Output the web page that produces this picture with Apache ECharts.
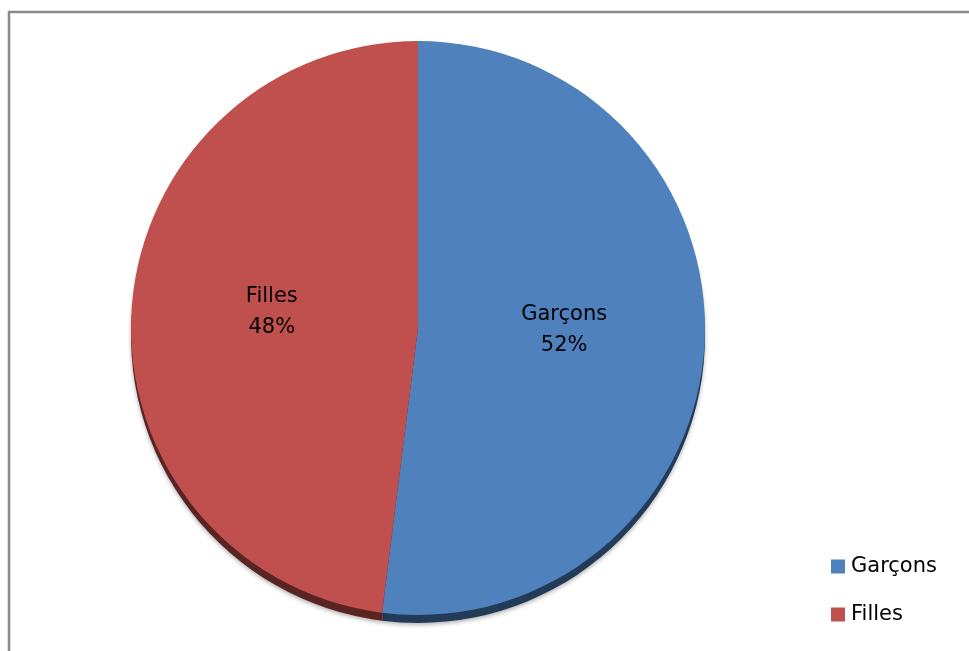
<!DOCTYPE html>
<html><head><meta charset="utf-8">
<script src="https://cdn.jsdelivr.net/npm/echarts@6/dist/echarts.min.js"></script>
<style>html,body{margin:0;padding:0;background:#fff}#c{width:969px;height:651px}</style>
</head><body><div id="c"></div>
<script>
const categories = ["Garçons", "Filles"];
const values = [52, 48];
const colors = ["#4F81BD", "#C0504D"];
const edgeColors = ["#243B58", "#5A2422"];

const chart = echarts.init(document.getElementById('c'));
chart.setOption({
  animation: false,
  graphic: [{
    type: 'rect', shape: {x: 9, y: 12, width: 975, height: 660},
    style: {fill: 'none', stroke: '#898989', lineWidth: 2.5}, silent: true
  }],
  legend: {
    orient: 'vertical', left: 826, top: 551, itemWidth: 14, itemHeight: 14,
    itemGap: 27, icon: 'rect',
    textStyle: {fontFamily: 'DejaVu Sans', fontSize: 21, color: '#000', padding: [0,0,0,1]},
    data: categories
  },
  series: [{
    type: 'pie', center: [418, 336], radius: 287, startAngle: 90, clockwise: true, z: 1,
    silent: true, legendHoverLink: false,
    data: categories.map((n, i) => ({name: n + ' ', value: values[i], itemStyle: {color: edgeColors[i]}})),
    itemStyle: {shadowBlur: 4, shadowOffsetY: 2, shadowColor: 'rgba(0,0,0,0.3)'},
    label: {show: false}, labelLine: {show: false}
  }, {
    type: 'pie', center: [418, 328], radius: 287, startAngle: 90, clockwise: true, z: 2,
    data: categories.map((n, i) => ({name: n, value: values[i], itemStyle: {color: colors[i]}})),
    label: {
      position: 'inside', formatter: '{b}\n{d}%\n{s|}', fontFamily: 'DejaVu Sans',
      fontSize: 21, color: '#000', lineHeight: 31,
      rich: {s: {lineHeight: 14, fontSize: 1}}
    },
    labelLine: {show: false}
  }]
});
</script></body></html>
